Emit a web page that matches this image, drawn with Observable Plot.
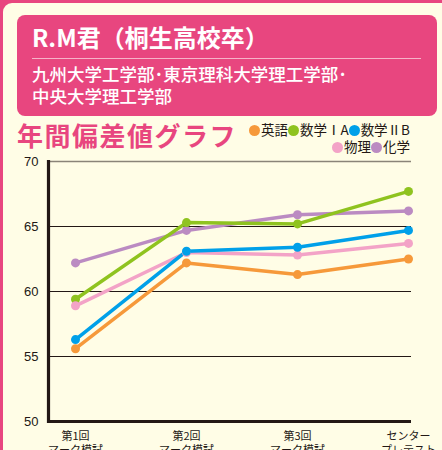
<!DOCTYPE html>
<html><head><meta charset="utf-8">
<script src="https://cdn.jsdelivr.net/npm/d3@7"></script>
<script src="https://cdn.jsdelivr.net/npm/@observablehq/plot@0.6"></script>
<style>
html,body{margin:0;padding:0;width:442px;height:450px;overflow:hidden;background:#e8467f;font-family:"Noto Sans CJK JP","Noto Sans",sans-serif;}
#card{position:absolute;left:3px;top:3px;width:460px;height:470px;background:#fffde6;border-top-left-radius:9px;}
#head{position:absolute;left:17px;top:15px;width:420px;height:101px;background:#e8467f;border-radius:8px;color:#fff;}
#title{position:absolute;left:15px;top:5px;font-size:24px;font-weight:bold;line-height:34px;white-space:nowrap;}
#rule{position:absolute;left:15px;top:43px;width:389px;height:1px;background:#f6b3c8;}
#sub{position:absolute;left:15px;top:48px;font-size:17.5px;line-height:22px;font-weight:500;white-space:nowrap;}
#ctitle{position:absolute;left:17px;top:119px;font-size:26px;letter-spacing:1.5px;font-weight:bold;color:#e8467f;white-space:nowrap;line-height:32px;}
#legend{position:absolute;right:32px;top:121px;font-size:13.5px;color:#231815;text-align:right;line-height:17px;white-space:nowrap;}
.sw{display:inline-block;width:11px;height:11px;border-radius:50%;vertical-align:-1px;margin-right:1px;}
#chart{position:absolute;left:0;top:150px;}
</style></head>
<body>
<div id="card"></div>
<div id="head">
  <div id="title">R.M君（桐生高校卒）</div>
  <div id="rule"></div>
  <div id="sub">九州大学工学部･東京理科大学理工学部･<br>中央大学理工学部</div>
</div>
<div id="ctitle">年間偏差値グラフ</div>
<div id="legend"></div>
<div id="chart"></div>
<script>
const exams = ["第1回\nマーク模試", "第2回\nマーク模試", "第3回\nマーク模試", "センター\nプレテスト"];
const subjects = ["英語", "数学ⅠA", "数学ⅡB", "物理", "化学"];
const colors = ["#f6993a", "#8fc31f", "#00a0e9", "#f3a3c7", "#bb8bc2"];
const english   = [55.6, 62.2, 61.3, 62.5];
const mathIA    = [59.4, 65.3, 65.2, 67.7];
const mathIIB   = [56.3, 63.1, 63.4, 64.7];
const physics   = [58.9, 63.0, 62.8, 63.7];
const chemistry = [62.2, 64.7, 65.9, 66.2];
const yTicks = [50, 55, 60, 65, 70];

const seriesValues = [english, mathIA, mathIIB, physics, chemistry];
const drawOrder = ["化学", "数学ⅠA", "物理", "英語", "数学ⅡB"];
const rows = [];
drawOrder.forEach(s => {
  const i = subjects.indexOf(s);
  seriesValues[i].forEach((v, j) => rows.push({subject: s, exam: exams[j], value: v}));
});

// legend
const leg = document.getElementById("legend");
const line1 = subjects.slice(0,3), line2 = subjects.slice(3);
leg.innerHTML = [line1, line2].map(l => "<div>" + l.map(s =>
  `<span class="sw" style="background:${colors[subjects.indexOf(s)]}"></span>${s}`).join("") + "</div>").join("");

const plot = Plot.plot({
  width: 442,
  height: 300,
  marginTop: 11,
  marginBottom: 29,
  marginLeft: 48,
  marginRight: 31,
  style: {background: "transparent", fontFamily: "'Liberation Sans', Arial, sans-serif"},
  x: {type: "point", domain: exams, range: [74, 409], padding: 0, axis: null},
  y: {domain: [50, 70], axis: null},
  color: {domain: subjects, range: colors},
  marks: [
    Plot.ruleY([55, 60, 65], {stroke: "#231815", strokeWidth: 1}),
    Plot.ruleY([70], {stroke: "#8a8478", strokeWidth: 1.5}),
    Plot.ruleY([50], {stroke: "#231815", strokeWidth: 3.2}),
    Plot.frame({anchor: "left", stroke: "#231815", strokeWidth: 3.2}),
    Plot.text(yTicks, {y: d => d, frameAnchor: "left", textAnchor: "end", dx: -10, text: d => String(d), fontSize: 13, fill: "#231815"}),
    Plot.text(exams, {x: d => d, y: 50, text: d => d, lineAnchor: "top", dy: 8, fontSize: 11, lineHeight: 1.3, fill: "#231815", fontFamily: "'Noto Sans CJK JP', sans-serif"}),
    Plot.line(rows, {x: "exam", y: "value", z: "subject", stroke: "subject", strokeWidth: 3.5}),
    Plot.dot(rows, {x: "exam", y: "value", fill: "subject", r: 4.5})
  ]
});
document.getElementById("chart").appendChild(plot);
</script>
</body></html>
